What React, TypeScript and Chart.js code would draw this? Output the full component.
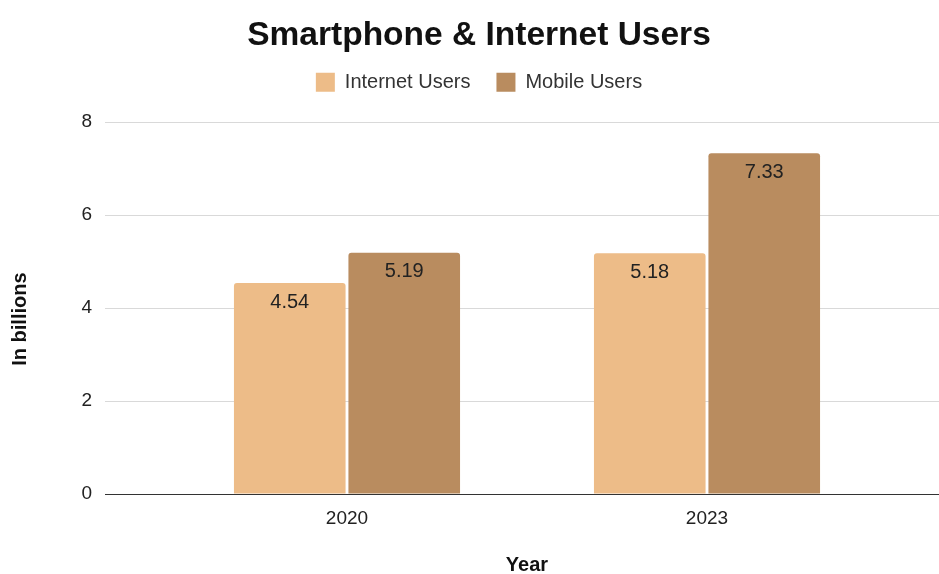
import React, { useEffect, useRef } from "react";
import { Chart, registerables } from "chart.js";

Chart.register(...registerables);

const years = ["2020", "2023"];
const internetUsers = [4.54, 5.18];
const mobileUsers = [5.19, 7.33];
const yTicks = [0, 2, 4, 6, 8];
const yTitle = "In billions";

const FONT = "'Liberation Sans', Arial, Helvetica, sans-serif";
const GRID = "#d9d9d9";
const AXIS = "#333333";

const alignPx = (p: number) => Math.round(p - 0.5) + 0.5;

const valueLabels = {
  id: "valueLabels",
  afterDatasetsDraw(chart: any) {
    const ctx = chart.ctx;
    ctx.save();
    ctx.font = `20px ${FONT}`;
    ctx.fillStyle = "#222222";
    ctx.textAlign = "center";
    ctx.textBaseline = "middle";
    chart.data.datasets.forEach((ds: any, di: number) => {
      const meta = chart.getDatasetMeta(di);
      meta.data.forEach((bar: any, i: number) => {
        ctx.fillText(String(ds.data[i]), bar.x, bar.y + 19);
      });
    });
    ctx.restore();
  },
};

const gridExtend = {
  id: "gridExtend",
  beforeDatasetsDraw(chart: any) {
    const ctx = chart.ctx;
    const y = chart.scales.y;
    const area = chart.chartArea;
    ctx.save();
    ctx.lineWidth = 1;
    y.ticks.forEach((t: any) => {
      const py = alignPx(y.getPixelForValue(t.value));
      ctx.strokeStyle = t.value === 0 ? AXIS : GRID;
      ctx.beginPath();
      ctx.moveTo(area.right - 1, py);
      ctx.lineTo(chart.width, py);
      ctx.stroke();
    });
    ctx.restore();
  },
};

const yTitlePlugin = {
  id: "yTitlePlugin",
  afterDraw(chart: any) {
    const ctx = chart.ctx;
    const area = chart.chartArea;
    ctx.save();
    ctx.font = `bold 20px ${FONT}`;
    ctx.fillStyle = "#111111";
    ctx.textAlign = "center";
    ctx.textBaseline = "middle";
    ctx.translate(20, (area.top + area.bottom) / 2 + 11);
    ctx.rotate(-Math.PI / 2);
    ctx.fillText(yTitle, 0, 0);
    ctx.restore();
  },
};

export default function App() {
  const ref = useRef<HTMLCanvasElement>(null);
  useEffect(() => {
    document.body.style.margin = "0";
    const chart = new Chart(ref.current!, {
      type: "bar",
      data: {
        labels: years,
        datasets: [
          {
            label: "Internet Users",
            data: internetUsers,
            backgroundColor: "#EDBC88",
            borderRadius: { topLeft: 3, topRight: 3 },
            borderSkipped: "bottom",
            categoryPercentage: 0.636,
            barPercentage: 0.975,
          },
          {
            label: "Mobile Users",
            data: mobileUsers,
            backgroundColor: "#B98C5F",
            borderRadius: { topLeft: 3, topRight: 3 },
            borderSkipped: "bottom",
            categoryPercentage: 0.636,
            barPercentage: 0.975,
          },
        ],
      },
      options: {
        animation: false,
        responsive: false,
        maintainAspectRatio: false,
        layout: { padding: { left: 19, right: 0, top: 0, bottom: 0 } },
        plugins: {
          title: {
            display: true,
            text: "Smartphone & Internet Users",
            color: "#111111",
            font: { family: FONT, size: 33.5, weight: "bold" },
            padding: { top: 16, bottom: -10 },
          },
          legend: {
            display: true,
            position: "top",
            labels: {
              boxWidth: 19,
              boxHeight: 19,
              padding: 26,
              color: "#333333",
              font: { family: FONT, size: 20 },
            },
          },
          tooltip: { enabled: false },
        },
        scales: {
          x: {
            grid: { display: false, drawTicks: false },
            border: { display: true, color: AXIS },
            ticks: { color: "#222222", font: { family: FONT, size: 19 }, padding: 13 },
            title: {
              display: true,
              text: "Year",
              color: "#111111",
              font: { family: FONT, size: 20, weight: "bold" },
              padding: { top: 0, bottom: -3 },
            },
            afterFit: (s: any) => {
              s.height = 80;
            },
          },
          xTop: {
            type: "category",
            position: "top",
            grid: { display: false, drawTicks: false },
            border: { display: false },
            ticks: { display: false },
            afterFit: (s: any) => {
              s.height = 20;
            },
          },
          y: {
            min: 0,
            max: 8,
            afterBuildTicks: (scale: any) => {
              scale.ticks = yTicks.map((v) => ({ value: v }));
            },
            grid: {
              color: (c: any) => (c.tick && c.tick.value === 0 ? AXIS : GRID),
              tickColor: (c: any) => (c.tick && c.tick.value === 0 ? AXIS : GRID),
              tickLength: 62,
              drawTicks: true,
            },
            border: { display: false },
            ticks: { color: "#222222", font: { family: FONT, size: 19 }, padding: 13 },
            title: { display: false },
            afterFit: (s: any) => {
              s.width = 148;
            },
          },
          y2: {
            type: "linear",
            position: "right",
            grid: { display: false, drawTicks: false },
            border: { display: false },
            ticks: { display: false },
            afterFit: (s: any) => {
              s.width = 52;
            },
          },
        },
      },
      plugins: [gridExtend, valueLabels, yTitlePlugin],
    });
    return () => chart.destroy();
  }, []);
  return (
    <div style={{ width: 939, height: 574 }}>
      <canvas ref={ref} width={939} height={574} style={{ display: "block" }} />
    </div>
  );
}
